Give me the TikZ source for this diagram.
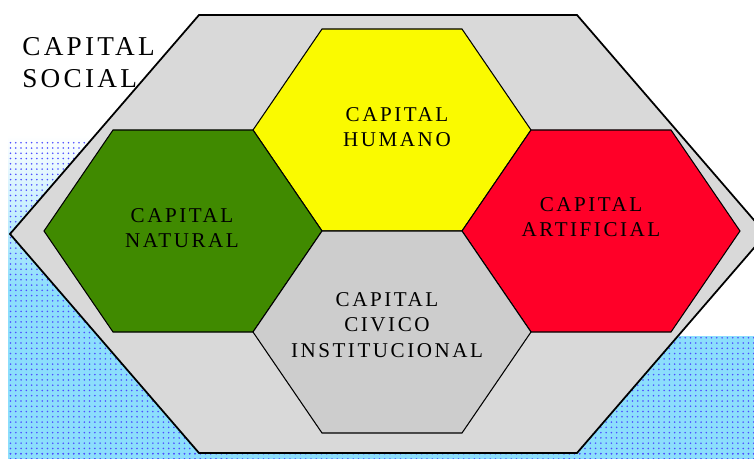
\documentclass[tikz,border=0pt]{standalone}
\usepackage{fontspec}
\setmainfont{Liberation Serif}[LetterSpace=12]
\usepackage{tikz}
\usetikzlibrary{patterns}
\definecolor{grisfondo}{RGB}{217,217,217}
\definecolor{griscivico}{RGB}{205,205,205}
\definecolor{verde}{RGB}{64,138,0}
\definecolor{amarillo}{RGB}{250,250,0}
\definecolor{rojo}{RGB}{255,0,40}
\definecolor{celeste}{RGB}{140,222,252}
\newcommand{\hexagono}[1]{(#1) ++(-70,-101) -- ++(140,0) -- ++(69,101) -- ++(-69,101) -- ++(-140,0) -- ++(-69,-101) -- cycle}
\begin{document}
\begin{tikzpicture}[x=0.02cm,y=-0.02cm]
	\tikzstyle{hexa} = [draw=black, line width=0.6pt]
	\tikzstyle{rotulo} = [align=center, inner sep=0pt, font=\fontsize{12}{14.3}\selectfont]
	\tikzstyle{cielo} = [pattern=dots, pattern color=blue!70]
	\useasboundingbox (0,0) rectangle (754,459);
	% fondo de cielo
	\shade[top color=white, bottom color=celeste] (8,135) rectangle (230,290);
	\fill[celeste] (8,290) rectangle (230,459);
	\fill[celeste] (560,336) rectangle (754,459);
	\fill[celeste] (8,452) rectangle (754,459);
	\fill[cielo] (8,140) rectangle (230,459);
	\fill[cielo] (560,336) rectangle (754,459);
	\fill[cielo] (8,452) rectangle (754,459);
	% hexagono exterior
	\filldraw[hexa, fill=grisfondo, line width=1pt]
			(199,15) -- (577,15) -- (766,234) -- (577,453) -- (199,453) -- (10,234) -- cycle;
	% hexagonos interiores
	\filldraw[hexa, fill=amarillo] \hexagono{392,130};
	\filldraw[hexa, fill=verde] \hexagono{183,231};
	\filldraw[hexa, fill=rojo] \hexagono{601,231};
	\filldraw[hexa, fill=griscivico] \hexagono{392,332};
		\node[align=left, anchor=west, inner sep=0pt, font=\fontsize{15.5}{18.1}\selectfont]
			(social) at (22,63) {CAPITAL\\SOCIAL};
		\node[rotulo] (humano) at (397,127) {CAPITAL\\HUMANO};
		\node[rotulo] (natural) at (182,228) {CAPITAL\\NATURAL};
		\node[rotulo] (artificial) at (591,217) {CAPITAL\\ARTIFICIAL};
		\node[rotulo] (civico) at (387,325) {CAPITAL\\CIVICO\\INSTITUCIONAL};
\end{tikzpicture}
\end{document}
